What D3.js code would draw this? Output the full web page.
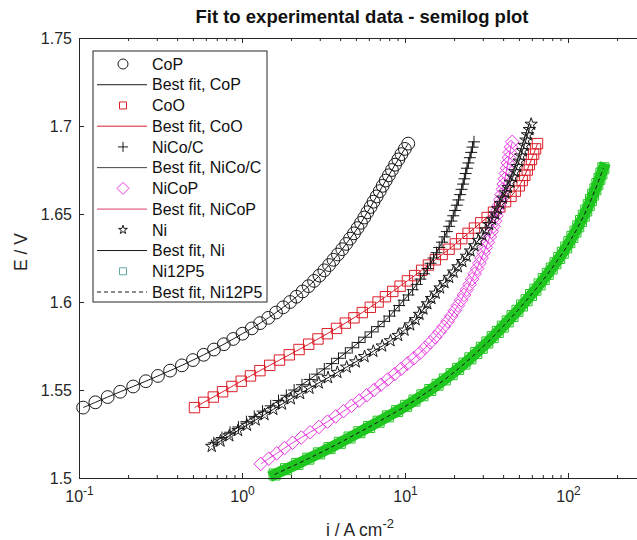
<!DOCTYPE html>
<html>
<head>
<meta charset="utf-8">
<script src="https://cdn.jsdelivr.net/npm/d3@7"></script>
<style>
  body { margin: 0; background: #fff; }
  text { font-family: "Liberation Sans", Arial, Helvetica, sans-serif; }
</style>
</head>
<body>
<svg id="chart" width="637" height="540"></svg>
<script>
// Current density i (A cm-2) and potential E (V).
var copI = [0.106,0.126,0.150,0.179,0.215,0.257,0.305,0.362,0.428,0.500,0.582,0.673,0.774,0.883,1.007,1.148,1.291,1.449,1.618,1.791,1.972,2.158,2.355,2.559,2.767,2.985,3.199,3.420,3.639,3.873,4.121,4.355,4.603,4.864,5.117,5.370,5.623,5.875,6.152,6.412,6.699,6.998,7.295,7.621,7.962,8.318,8.690,9.099,9.506,9.977,10.47];
var copE = [1.540,1.543,1.546,1.549,1.552,1.555,1.558,1.561,1.564,1.567,1.570,1.573,1.576,1.579,1.582,1.585,1.588,1.591,1.594,1.597,1.600,1.603,1.606,1.609,1.612,1.615,1.618,1.621,1.624,1.627,1.630,1.633,1.636,1.639,1.642,1.645,1.648,1.651,1.654,1.657,1.660,1.663,1.666,1.669,1.672,1.675,1.678,1.681,1.684,1.687,1.690];

var cooI = [0.511,0.583,0.667,0.760,0.867,0.989,1.127,1.288,1.479,1.698,1.950,2.239,2.564,2.924,3.334,3.802,4.305,4.864,5.470,6.124,6.839,7.586,8.414,9.333,10.35,11.48,12.65,13.93,15.35,16.90,18.62,20.37,22.28,24.38,26.67,29.17,31.92,34.91,38.19,41.40,44.67,47.53,50.23,52.36,54.33,56.23,57.94,59.70,61.52,63.24,65.01];
var cooE = [1.540,1.543,1.546,1.549,1.552,1.555,1.558,1.561,1.564,1.567,1.570,1.573,1.576,1.579,1.582,1.585,1.588,1.591,1.594,1.597,1.600,1.603,1.606,1.609,1.612,1.615,1.618,1.621,1.624,1.627,1.630,1.633,1.636,1.639,1.642,1.645,1.648,1.651,1.654,1.657,1.660,1.663,1.666,1.669,1.672,1.675,1.678,1.681,1.684,1.687,1.690];

var nicocI = [0.671,0.753,0.845,0.951,1.064,1.189,1.337,1.500,1.675,1.871,2.089,2.333,2.600,2.884,3.199,3.548,3.908,4.305,4.742,5.200,5.689,6.237,6.839,7.447,8.035,8.610,9.204,9.817,10.50,11.14,11.80,12.45,13.09,13.74,14.35,14.96,15.60,16.22,16.87,17.46,18.07,18.66,19.23,19.77,20.28,20.80,21.28,21.78,22.23,22.70,23.12,23.55,23.99,24.49,25.00,25.47,25.94,26.49];
var nicocE = [1.520,1.523,1.526,1.529,1.532,1.535,1.538,1.541,1.544,1.547,1.550,1.553,1.556,1.559,1.562,1.565,1.568,1.571,1.574,1.577,1.580,1.583,1.586,1.589,1.592,1.595,1.598,1.601,1.604,1.607,1.610,1.613,1.616,1.619,1.622,1.625,1.628,1.631,1.634,1.637,1.640,1.643,1.646,1.649,1.652,1.655,1.658,1.661,1.664,1.667,1.670,1.673,1.676,1.679,1.682,1.685,1.688,1.691];

var nicopI = [1.303,1.459,1.633,1.824,2.042,2.312,2.618,2.965,3.342,3.758,4.198,4.688,5.236,5.821,6.457,7.112,7.834,8.630,9.462,10.35,11.32,12.33,13.30,14.29,15.31,16.29,17.30,18.28,19.23,20.18,21.13,22.08,23.01,23.93,24.89,25.82,26.73,27.67,28.58,29.51,30.41,31.33,32.21,33.11,34.04,34.91,35.65,36.31,36.98,37.76,38.46,39.08,39.81,40.36,41.02,41.59,42.17,42.76,43.35,43.95,44.67,45.50];
var nicopE = [1.508,1.511,1.514,1.517,1.520,1.523,1.526,1.529,1.532,1.535,1.538,1.541,1.544,1.547,1.550,1.553,1.556,1.559,1.562,1.565,1.568,1.571,1.574,1.577,1.580,1.583,1.586,1.589,1.592,1.595,1.598,1.601,1.604,1.607,1.610,1.613,1.616,1.619,1.622,1.625,1.628,1.631,1.634,1.637,1.640,1.643,1.646,1.649,1.652,1.655,1.658,1.661,1.664,1.667,1.670,1.673,1.676,1.679,1.682,1.685,1.688,1.691];

var niI = [0.652,0.738,0.836,0.946,1.072,1.213,1.374,1.556,1.762,1.995,2.275,2.594,2.958,3.373,3.846,4.385,4.989,5.649,6.397,7.244,8.147,9.078,9.931,10.76,11.61,12.27,12.97,13.71,14.52,15.42,16.41,17.46,18.66,19.86,21.13,22.49,23.88,25.23,26.67,28.18,29.79,31.41,32.81,34.28,35.73,37.07,38.46,39.81,41.30,42.85,44.36,45.92,47.32,48.75,50.12,51.40,52.60,53.95,55.21,56.49,57.94,59.43];
var niE = [1.518,1.521,1.524,1.527,1.530,1.533,1.536,1.539,1.542,1.545,1.548,1.551,1.554,1.557,1.560,1.563,1.566,1.569,1.572,1.575,1.578,1.581,1.584,1.587,1.590,1.593,1.596,1.599,1.602,1.605,1.608,1.611,1.614,1.617,1.620,1.623,1.626,1.629,1.632,1.635,1.638,1.641,1.644,1.647,1.650,1.653,1.656,1.659,1.662,1.665,1.668,1.671,1.674,1.677,1.680,1.683,1.686,1.689,1.692,1.695,1.698,1.701];

var ni12p5I = [1.585,1.862,2.183,2.553,2.972,3.443,3.981,4.571,5.248,6.026,6.887,7.852,8.954,10.16,11.43,12.79,14.29,15.85,17.54,19.32,21.18,23.17,25.18,27.35,29.58,31.99,34.51,37.07,39.81,42.66,45.71,48.98,52.24,55.72,59.29,63.10,66.99,70.96,75.16,79.43,83.75,88.31,92.90,97.50,101.9,106.4,111.2,115.6,120.2,125.0,129.4,134.0,138.4,142.6,147.2,151.4,156.0,160.3,164.8];
var ni12p5E = [1.502,1.505,1.508,1.511,1.514,1.517,1.520,1.523,1.526,1.529,1.532,1.535,1.538,1.541,1.544,1.547,1.550,1.553,1.556,1.559,1.562,1.565,1.568,1.571,1.574,1.577,1.580,1.583,1.586,1.589,1.592,1.595,1.598,1.601,1.604,1.607,1.610,1.613,1.616,1.619,1.622,1.625,1.628,1.631,1.634,1.637,1.640,1.643,1.646,1.649,1.652,1.655,1.658,1.661,1.664,1.667,1.670,1.673,1.676];

var xTicks = [0.1, 1, 10, 100];
var yTicks = [1.5, 1.55, 1.6, 1.65, 1.7, 1.75];
var legendLabels = ["CoP", "Best fit, CoP", "CoO", "Best fit, CoO", "NiCo/C", "Best fit, NiCo/C",
                    "NiCoP", "Best fit, NiCoP", "Ni", "Best fit, Ni", "Ni12P5", "Best fit, Ni12P5"];

// Marker shapes, as path strings centred on 0,0.
function squarePath(h) { return "M" + -h + "," + -h + "H" + h + "V" + h + "H" + -h + "Z"; }
function plusPath(h) { return "M" + -h + ",0H" + h + "M0," + -h + "V" + h; }
function diamondPath(h) { return "M0," + -h + "L" + h + ",0L0," + h + "L" + -h + ",0Z"; }
function circlePath(r) { return d3.symbol(d3.symbolCircle, Math.PI * r * r)(); }
function starPath(s) { return d3.symbol(d3.symbolStar, s)(); }

var series = [
  { i: copI, e: copE, marker: circlePath(6.4), color: "#1a1a1a", fit: "#1a1a1a" },
  { i: cooI, e: cooE, marker: squarePath(5.2), color: "#dc1f2a", fit: "#dc1f2a" },
  { i: nicocI, e: nicocE, marker: plusPath(6), color: "#1a1a1a", fit: "#1a1a1a" },
  { i: nicopI, e: nicopE, marker: diamondPath(6.8), color: "#e838e0", fit: "#e838e0" },
  { i: niI, e: niE, marker: starPath(48), color: "#1a1a1a", fit: "#1a1a1a" },
  { i: ni12p5I, e: ni12p5E, marker: squarePath(5.5), color: "#1fc61f", fit: "#111", dash: "4,3", band: true }
];

var svg = d3.select("#chart");
var axisColor = "#262626";

var x = d3.scaleLog().domain([0.1, 1000]).range([79, 731]);
var y = d3.scaleLinear().domain([1.5, 1.75]).range([478, 38]);

var line = d3.line()
  .x(function (d) { return x(d[0]); })
  .y(function (d) { return y(d[1]); })
  .curve(d3.curveCatmullRom);

// Data markers and best-fit lines.
series.forEach(function (s) {
  var pts = d3.zip(s.i, s.e);
  var g = svg.append("g");

  // Very dense markers merge into a solid band.
  if (s.band) {
    g.append("path")
      .attr("d", line(pts))
      .attr("fill", "none")
      .attr("stroke", s.color)
      .attr("stroke-width", 11)
      .attr("stroke-linecap", "square");
  }

  g.selectAll("path.marker")
    .data(pts)
    .enter().append("path")
    .attr("class", "marker")
    .attr("d", s.marker)
    .attr("transform", function (d) { return "translate(" + x(d[0]) + "," + y(d[1]) + ")"; })
    .attr("fill", "none")
    .attr("stroke", s.color)
    .attr("stroke-width", 1);

  g.append("path")
    .attr("d", line(pts))
    .attr("fill", "none")
    .attr("stroke", s.fit)
    .attr("stroke-width", 1)
    .attr("stroke-dasharray", s.dash || null);
});

// Axes with inward ticks, as in the original figure.
var minorX = x.ticks().filter(function (d) { return xTicks.indexOf(d) < 0 && d < 1000; });

function styleAxis(g) {
  g.selectAll("path, line").attr("stroke", axisColor);
  g.selectAll("text").attr("fill", axisColor).attr("font-size", 16);
}

svg.append("g").attr("transform", "translate(0,478)")
  .call(d3.axisBottom(x).tickValues(minorX).tickSize(-3).tickSizeOuter(0).tickFormat(""))
  .call(styleAxis);
var xAxis = svg.append("g").attr("transform", "translate(0,478)")
  .call(d3.axisBottom(x).tickValues(xTicks).tickSize(-5).tickSizeOuter(0).tickPadding(13))
  .call(styleAxis);
xAxis.selectAll(".tick text").each(function (d) {
  var t = d3.select(this).text(null);
  t.append("tspan").text("10");
  t.append("tspan").attr("dy", -7).attr("font-size", 12).text(Math.round(Math.log10(d)));
});

svg.append("g").attr("transform", "translate(0,38)")
  .call(d3.axisTop(x).tickValues(minorX).tickSize(-3).tickSizeOuter(0).tickFormat(""))
  .call(styleAxis);
svg.append("g").attr("transform", "translate(0,38)")
  .call(d3.axisTop(x).tickValues(xTicks).tickSize(-5).tickSizeOuter(0).tickFormat(""))
  .call(styleAxis);

svg.append("g").attr("transform", "translate(79,0)")
  .call(d3.axisLeft(y).tickValues(yTicks).tickSize(-5).tickSizeOuter(0).tickPadding(7)
    .tickFormat(function (d) { return d; }))
  .call(styleAxis);
svg.append("g").attr("transform", "translate(731,0)")
  .call(d3.axisRight(y).tickValues(yTicks).tickSize(-5).tickSizeOuter(0).tickFormat(""))
  .call(styleAxis);

// Title and axis labels.
svg.append("text")
  .attr("x", 362).attr("y", 23)
  .attr("text-anchor", "middle")
  .attr("font-size", 18.5).attr("font-weight", "bold")
  .attr("fill", "#111")
  .text("Fit to experimental data - semilog plot");

var xLabel = svg.append("text")
  .attr("x", 360).attr("y", 536)
  .attr("text-anchor", "middle")
  .attr("font-size", 17.5).attr("fill", axisColor);
xLabel.append("tspan").text("i / A cm");
xLabel.append("tspan").attr("dy", -8).attr("font-size", 13).text("-2");

svg.append("text")
  .attr("transform", "translate(27,252) rotate(-90)")
  .attr("text-anchor", "middle")
  .attr("font-size", 17.5).attr("fill", axisColor)
  .text("E / V");

// Legend.
var legendMarkers = [
  { marker: circlePath(5), color: "#1a1a1a" },
  { line: "#1a1a1a" },
  { marker: squarePath(3.5), color: "#dc1f2a" },
  { line: "#dc1f2a" },
  { marker: plusPath(5), color: "#1a1a1a" },
  { line: "#444" },
  { marker: diamondPath(6), color: "#e838e0" },
  { line: "#d8406a" },
  { marker: starPath(24), color: "#1a1a1a" },
  { line: "#1a1a1a" },
  { marker: squarePath(3.5), color: "#62aaa6" },
  { line: "#1a1a1a", dash: "4,3" }
];

var legend = svg.append("g");
legend.append("rect")
  .attr("x", 93).attr("y", 51).attr("width", 174).attr("height", 251)
  .attr("fill", "#fff").attr("stroke", axisColor).attr("stroke-width", 1);

var rowY = d3.scalePoint().domain(legendLabels).range([64, 292]);

legendLabels.forEach(function (label, k) {
  var m = legendMarkers[k];
  var yy = rowY(label);
  if (m.marker) {
    legend.append("path")
      .attr("d", m.marker)
      .attr("transform", "translate(123," + yy + ")")
      .attr("fill", "none").attr("stroke", m.color).attr("stroke-width", 1);
  } else {
    legend.append("line")
      .attr("x1", 97).attr("x2", 147).attr("y1", yy).attr("y2", yy)
      .attr("stroke", m.line).attr("stroke-width", 1)
      .attr("stroke-dasharray", m.dash || null);
  }
  legend.append("text")
    .attr("x", 152).attr("y", yy)
    .attr("dy", "0.36em")
    .attr("font-size", 16).attr("fill", "#111")
    .text(label);
});
</script>
</body>
</html>
